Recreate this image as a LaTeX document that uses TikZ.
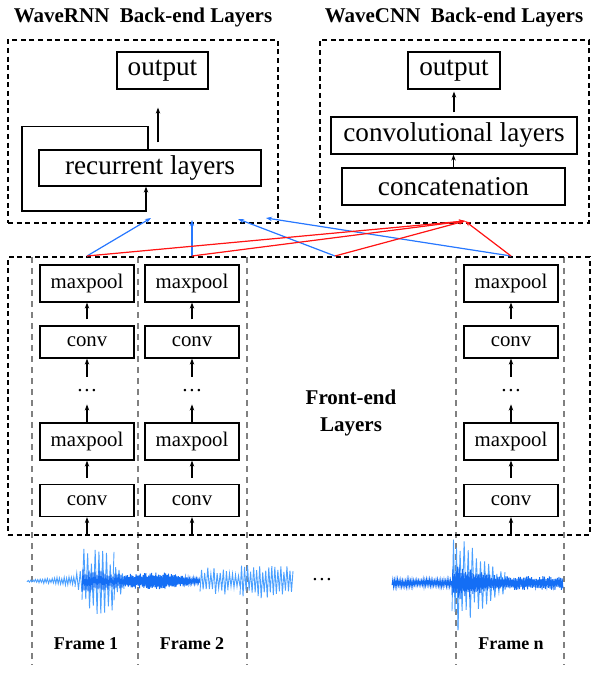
\documentclass[tikz,border=0pt]{standalone}
\usepackage{fontspec}
\setmainfont{Liberation Serif}
\usetikzlibrary{arrows.meta}
\definecolor{linkblue}{RGB}{40,120,255}
\definecolor{linkred}{RGB}{255,20,20}
\definecolor{wavelight}{RGB}{75,160,255}
\definecolor{wavedark}{RGB}{20,110,245}

\begin{document}
\begin{tikzpicture}[x=0.5pt, y=-0.5pt,
    layer/.style={draw, line width=0.6pt, inner sep=0pt, font=\fontsize{13.6}{16}\selectfont},
    feature/.style={layer, minimum width=47pt, font=\fontsize{10.4}{12}\selectfont},
    dotsnode/.style={inner sep=0pt, minimum height=13.5pt, font=\fontsize{10.4}{12}\selectfont},
    dashbox/.style={draw, dash pattern=on 2.5pt off 1.8pt, line width=0.65pt, inner sep=0pt},
    framesep/.style={draw=gray, dash pattern=on 3pt off 2.5pt, line width=0.6pt},
    title/.style={font=\bfseries\fontsize{10.5}{13.5}\selectfont},
    framelabel/.style={font=\bfseries\fontsize{9}{11}\selectfont},
    arr/.style={-{Stealth[length=3pt,width=2.2pt]}, line width=0.6pt},
    rnnlink/.style={arr, draw=linkblue, fill=linkblue},
    cnnlink/.style={arr, draw=linkred, fill=linkred},
    wave/.style={line width=0.45pt}]
    \pgfmathsetseed{4242}
    \useasboundingbox (0,0) rectangle (598,673);

    % back-end layers
    \node[title] (rnntitle) at (143,17) {WaveRNN~~Back-end Layers};
    \node[title] (cnntitle) at (454,17) {WaveCNN~~Back-end Layers};
    \node[dashbox, minimum width=135pt, minimum height=91.5pt] (rnnbox) at (143,131.5) {};
    \node[dashbox, minimum width=134.5pt, minimum height=91.5pt] (cnnbox) at (454.5,131.5) {};

    \node[layer, minimum width=45.5pt, minimum height=18.5pt] (rnnout) at (162.5,70.5) {output};
    \node[layer, minimum width=111pt, minimum height=18pt] (rec) at (150,168) {recurrent layers};
    \draw[arr, shorten <=3.5pt, shorten >=9pt] ([xshift=4pt]rec.north) -- ([xshift=4pt]rec.north |- rnnout.south);
    \draw[arr] ([xshift=-1pt]rec.north) -- ++(0,-23) -| (22,211) -| ([xshift=-2pt]rec.south);

    \node[layer, minimum width=46pt, minimum height=18.5pt] (cnnout) at (454,70.5) {output};
    \node[layer, minimum width=123pt, minimum height=18.5pt] (convl) at (454,135.5) {convolutional layers};
    \node[layer, minimum width=111.5pt, minimum height=18.5pt] (concat) at (453.5,186.5) {concatenation};
    \draw[arr, shorten <=2pt, shorten >=1pt] (convl.north) -- (cnnout.south);
    \draw[arr] (concat.north) -- (concat.north |- convl.south);

    % front-end layers
    \foreach \x in {32,138,247,456,564}
        \draw[framesep] (\x,257) -- (\x,665);
    \node[dashbox, minimum width=291pt, minimum height=139pt] (fe) at (299,396) {};
    \node[title, align=center] (felabel) at (351,413) {Front-end\\Layers};

    \foreach \c/\x in {a/87,b/192,n/511} {
        \node[feature, minimum height=18.5pt] (\c-mp1) at (\x,283.5) {maxpool};
        \node[feature, minimum height=16pt] (\c-cv1) at (\x,342) {conv};
        \node[dotsnode] (\c-dots) at (\x,390.5) {\ldots};
        \node[feature, minimum height=18.5pt] (\c-mp2) at (\x,441.5) {maxpool};
        \node[feature, minimum height=16pt] (\c-cv2) at (\x,500.5) {conv};
        \coordinate (\c-in) at (\x,535);
        \coordinate (\c-top) at (\x,256);
        \draw[arr, shorten <=3pt] (\c-cv1) -- (\c-mp1);
        \draw[arr] (\c-dots) -- (\c-cv1);
        \draw[arr] (\c-mp2) -- (\c-dots);
        \draw[arr, shorten <=3pt] (\c-cv2) -- (\c-mp2);
        \draw[arr] (\c-in) -- (\c-cv2);
    }

    % links to the back-ends
    \coordinate (m-top) at (335,256);
    \coordinate (rnn-in1) at (151,218);
    \coordinate (rnn-in2) at (192,220);
    \coordinate (rnn-in3) at (238,219);
    \coordinate (rnn-in4) at (266,218);
    \coordinate (cnn-in) at (465,221);
    \draw[rnnlink] (a-top) -- (rnn-in1);
    \draw[rnnlink] (b-top) -- (rnn-in2);
    \draw[rnnlink] (m-top) -- (rnn-in3);
    \draw[rnnlink] (n-top) -- (rnn-in4);
    \foreach \c in {a,b,m,n}
        \draw[cnnlink] (\c-top) -- (cnn-in);

    % waveform
    \foreach \yc/\xa/\xb/\aa/\ab/\stp/\wc in {
        581/27/75/1/5/1.2/wavelight, 581/75/82/9/12/1.5/wavelight,
        581/82/114/36/32/1.8/wavelight, 581/114/124/28/9/1.5/wavelight,
        581/82/124/14/7/1/wavedark, 581/124/165/7/9/0.7/wavedark,
        581/165/200/9/2/0.7/wavedark, 581/200/228/14/14/1.5/wavelight,
        581/228/240/9/9/1.5/wavelight, 581/240/293/19/15/1.5/wavelight,
        583/392/452/4/4/0.8/wavedark, 583/452/458/46/48/1.5/wavelight,
        583/458/505/48/11/2/wavelight, 583/452/505/18/6/0.8/wavedark,
        583/505/563/7/7/0.8/wavedark} {
        \pgfmathtruncatemacro\ns{(\xb-\xa)/\stp+1}
        \pgfmathsetmacro\st{(\xb-\xa)/(\ns-1)}
        \draw[wave, draw=\wc] plot[domain=\xa:\xb, samples=\ns]
            (\x,{\yc+(\aa+(\ab-\aa)*(\x-\xa)/(\xb-\xa))*cos(180*(\x-\xa)/\st)*(0.5+0.5*rnd)});
    }
    \node[font=\fontsize{10.4}{12}\selectfont] (gap) at (322,580) {\ldots};

    \node[framelabel] (f1) at (86,644) {Frame 1};
    \node[framelabel] (f2) at (192,644) {Frame 2};
    \node[framelabel] (fn) at (511,644) {Frame n};
\end{tikzpicture}
\end{document}
